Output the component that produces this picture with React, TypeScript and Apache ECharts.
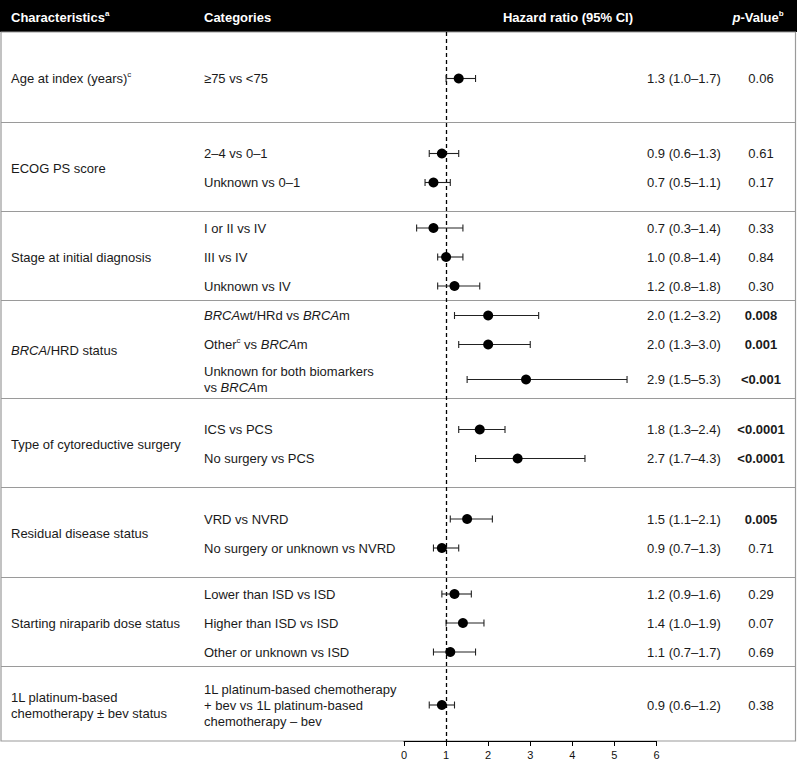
import React, { useEffect, useRef } from "react";
import * as echarts from "echarts";

// ---------------- data ----------------
const SECTION_LABELS = [
  "Age at index (years){s|c}",
  "ECOG PS score",
  "Stage at initial diagnosis",
  "{i|BRCA}/HRD status",
  "Type of cytoreductive surgery",
  "Residual disease status",
  "Starting niraparib dose status",
  "1L platinum-based\nchemotherapy ± bev status",
];
const SECTION_ROWS = [1, 2, 3, 3, 2, 2, 3, 1];
const CATEGORIES = [
  "≥75 vs <75",
  "2–4 vs 0–1",
  "Unknown vs 0–1",
  "I or II vs IV",
  "III vs IV",
  "Unknown vs IV",
  "{i|BRCA}wt/HRd vs {i|BRCA}m",
  "Other{s|c} vs {i|BRCA}m",
  "Unknown for both biomarkers\nvs {i|BRCA}m",
  "ICS vs PCS",
  "No surgery vs PCS",
  "VRD vs NVRD",
  "No surgery or unknown vs NVRD",
  "Lower than ISD vs ISD",
  "Higher than ISD vs ISD",
  "Other or unknown vs ISD",
  "1L platinum-based chemotherapy\n+ bev vs 1L platinum-based\nchemotherapy – bev",
];
const HR = [1.3, 0.9, 0.7, 0.7, 1.0, 1.2, 2.0, 2.0, 2.9, 1.8, 2.7, 1.5, 0.9, 1.2, 1.4, 1.1, 0.9];
const CI_LOW = [1.0, 0.6, 0.5, 0.3, 0.8, 0.8, 1.2, 1.3, 1.5, 1.3, 1.7, 1.1, 0.7, 0.9, 1.0, 0.7, 0.6];
const CI_HIGH = [1.7, 1.3, 1.1, 1.4, 1.4, 1.8, 3.2, 3.0, 5.3, 2.4, 4.3, 2.1, 1.3, 1.6, 1.9, 1.7, 1.2];
const P_VALUES = [
  "0.06", "0.61", "0.17", "0.33", "0.84", "0.30", "0.008", "0.001", "<0.001",
  "<0.0001", "<0.0001", "0.005", "0.71", "0.29", "0.07", "0.69", "0.38",
];
const X_MIN = 0;
const X_MAX = 6;
const X_INTERVAL = 1;
const REFERENCE_HR = 1;
const HEADERS = ["Characteristics{s|a}", "Categories", "Hazard ratio (95% CI)", "{i|p}-Value{s|b}"];

// ---------------- layout ----------------
const W = 797;
const H = 763;
const HEADER_H = 32;
const SECTION_HEIGHTS = [90, 89, 89, 98, 89, 90, 89, 75];
const LINE_SLOT = 29;
const EXTRA_LINE = 12;
const TEXT_SHIFT = 1.5;
const PLOT_LEFT = 404;
const PLOT_RIGHT = 656.5;
const COL_CHAR_X = 11;
const COL_CAT_X = 204;
const COL_HR_X = 647;
const COL_P_X = 761;
const FONT = "'Liberation Sans', Arial, Helvetica, sans-serif";
const TEXT_COLOR = "#1a1a1a";
const GRID_COLOR = "#9a9a9a";

const sum = (a: number[]) => a.reduce((s, v) => s + v, 0);
const TABLE_BOTTOM = HEADER_H + sum(SECTION_HEIGHTS);

function computeLayout() {
  const rowY: number[] = [];
  const sectionMid: number[] = [];
  const boundaries: number[] = [];
  let top = HEADER_H;
  let r = 0;
  SECTION_ROWS.forEach((n, s) => {
    const h = SECTION_HEIGHTS[s];
    const mid = top + h / 2 + TEXT_SHIFT;
    sectionMid.push(mid);
    const slots: number[] = [];
    for (let k = 0; k < n; k++) {
      const lines = CATEGORIES[r + k].split("\n").length;
      slots.push(LINE_SLOT + (lines - 1) * EXTRA_LINE);
    }
    let acc = -sum(slots) / 2;
    slots.forEach((sl) => {
      rowY.push(mid + acc + sl / 2);
      acc += sl;
    });
    top += h;
    boundaries.push(top);
    r += n;
  });
  return { rowY, sectionMid, boundaries };
}

function richStyles(color: string, weight: string) {
  return {
    i: { fontFamily: FONT, fontSize: 13, fontStyle: "italic", fontWeight: weight, fill: color, color, lineHeight: 16 },
    b: { fontFamily: FONT, fontSize: 13, fontStyle: "normal", fontWeight: "bold", fill: color, color, lineHeight: 16 },
    s: { fontFamily: FONT, fontSize: 8, fontStyle: "normal", fontWeight: weight, fill: color, color, verticalAlign: "top", lineHeight: 9 },
  };
}

function textEl(
  text: string,
  x: number,
  y: number,
  opts: { align?: string; weight?: string; color?: string } = {}
) {
  const color = opts.color || TEXT_COLOR;
  const weight = opts.weight || "normal";
  const align = opts.align || "left";
  return {
    type: "text",
    x,
    y,
    silent: true,
    style: {
      text,
      fontFamily: FONT,
      fontSize: 13,
      fontWeight: weight,
      fill: color,
      lineHeight: 16,
      align,
      verticalAlign: "middle",
      textAlign: align,
      textVerticalAlign: "middle",
      rich: richStyles(color, weight),
    },
  };
}

export default function App() {
  const ref = useRef<HTMLDivElement>(null);

  useEffect(() => {
    if (!ref.current) return;
    const chart = echarts.init(ref.current, null, { renderer: "svg" });
    const { rowY, sectionMid, boundaries } = computeLayout();
    const plotH = TABLE_BOTTOM - HEADER_H;
    const yv = (py: number) => py - HEADER_H;

    const graphics: any[] = [];
    // header bar
    graphics.push({
      type: "rect",
      silent: true,
      shape: { x: 0, y: 0, width: W, height: HEADER_H },
      style: { fill: "#000" },
    });
    const hy = HEADER_H / 2 + 1;
    graphics.push(textEl(HEADERS[0], COL_CHAR_X, hy, { weight: "bold", color: "#fff" }));
    graphics.push(textEl(HEADERS[1], COL_CAT_X, hy, { weight: "bold", color: "#fff" }));
    graphics.push(textEl(HEADERS[2], 568, hy, { weight: "bold", color: "#fff", align: "center" }));
    graphics.push(textEl(HEADERS[3], 758, hy, { weight: "bold", color: "#fff", align: "center" }));

    // table border
    graphics.push({
      type: "rect",
      silent: true,
      shape: { x: 1, y: HEADER_H, width: 794.5, height: TABLE_BOTTOM - HEADER_H },
      style: { fill: "none", stroke: GRID_COLOR, lineWidth: 1.2 },
    });
    boundaries.slice(0, -1).forEach((b) => {
      graphics.push({
        type: "line",
        silent: true,
        shape: { x1: 1, y1: b + 0.5, x2: 795.5, y2: b + 0.5 },
        style: { stroke: GRID_COLOR, lineWidth: 1 },
      });
    });

    // section labels
    SECTION_LABELS.forEach((lab, s) => {
      graphics.push(textEl(lab, COL_CHAR_X, sectionMid[s]));
    });
    // categories, HR text, p-values
    CATEGORIES.forEach((cat, i) => {
      graphics.push(textEl(cat, COL_CAT_X, rowY[i]));
      const hrText = `${HR[i].toFixed(1)} (${CI_LOW[i].toFixed(1)}–${CI_HIGH[i].toFixed(1)})`;
      graphics.push(textEl(hrText, COL_HR_X, rowY[i]));
      const pNum = parseFloat(P_VALUES[i].replace("<", ""));
      graphics.push(
        textEl(P_VALUES[i], COL_P_X, rowY[i], { align: "center", weight: pNum < 0.05 ? "bold" : "normal" })
      );
    });

    const option: any = {
      animation: false,
      backgroundColor: "#fff",
      textStyle: { color: "#222", fontFamily: FONT },
      grid: {
        left: PLOT_LEFT,
        right: W - PLOT_RIGHT,
        top: HEADER_H,
        bottom: H - TABLE_BOTTOM,
        containLabel: false,
      },
      xAxis: {
        type: "value",
        position: "bottom",
        min: X_MIN,
        max: X_MAX,
        interval: X_INTERVAL,
        axisLine: { show: true, onZero: false, lineStyle: { color: "#000", width: 1 } },
        axisTick: { show: true, length: 5, lineStyle: { color: "#000", width: 1 } },
        axisLabel: { color: "#111", fontSize: 11, fontFamily: FONT, margin: 8 },
        splitLine: { show: false },
      },
      yAxis: {
        type: "value",
        min: 0,
        max: plotH,
        inverse: true,
        show: false,
        splitLine: { show: false },
      },
      graphic: graphics,
      series: [
        {
          type: "custom",
          z: 3,
          silent: true,
          encode: { x: [0, 1], y: 2 },
          data: CI_LOW.map((lo, i) => [lo, CI_HIGH[i], yv(rowY[i])]),
          renderItem: (_params: any, api: any) => {
            const p1 = api.coord([api.value(0), api.value(2)]);
            const p2 = api.coord([api.value(1), api.value(2)]);
            const c = 3.5;
            const st = { stroke: "#222", lineWidth: 1.1 };
            return {
              type: "group",
              children: [
                { type: "line", shape: { x1: p1[0], y1: p1[1], x2: p2[0], y2: p2[1] }, style: st },
                { type: "line", shape: { x1: p1[0], y1: p1[1] - c, x2: p1[0], y2: p1[1] + c }, style: st },
                { type: "line", shape: { x1: p2[0], y1: p2[1] - c, x2: p2[0], y2: p2[1] + c }, style: st },
              ],
            };
          },
        },
        {
          type: "scatter",
          z: 4,
          silent: true,
          symbol: "circle",
          symbolSize: 10,
          itemStyle: { color: "#000", opacity: 1 },
          data: HR.map((v, i) => [v, yv(rowY[i])]),
          markLine: {
            silent: true,
            symbol: ["none", "none"],
            label: { show: false },
            lineStyle: { color: "#000", type: [4, 3], width: 1.3, opacity: 1 },
            data: [{ xAxis: REFERENCE_HR }],
            z: 2,
          },
        },
      ],
    };
    chart.setOption(option);
    return () => chart.dispose();
  }, []);

  return (
    <div
      ref={ref}
      style={{ position: "absolute", left: 0, top: 0, width: W, height: H, background: "#fff" }}
    />
  );
}
